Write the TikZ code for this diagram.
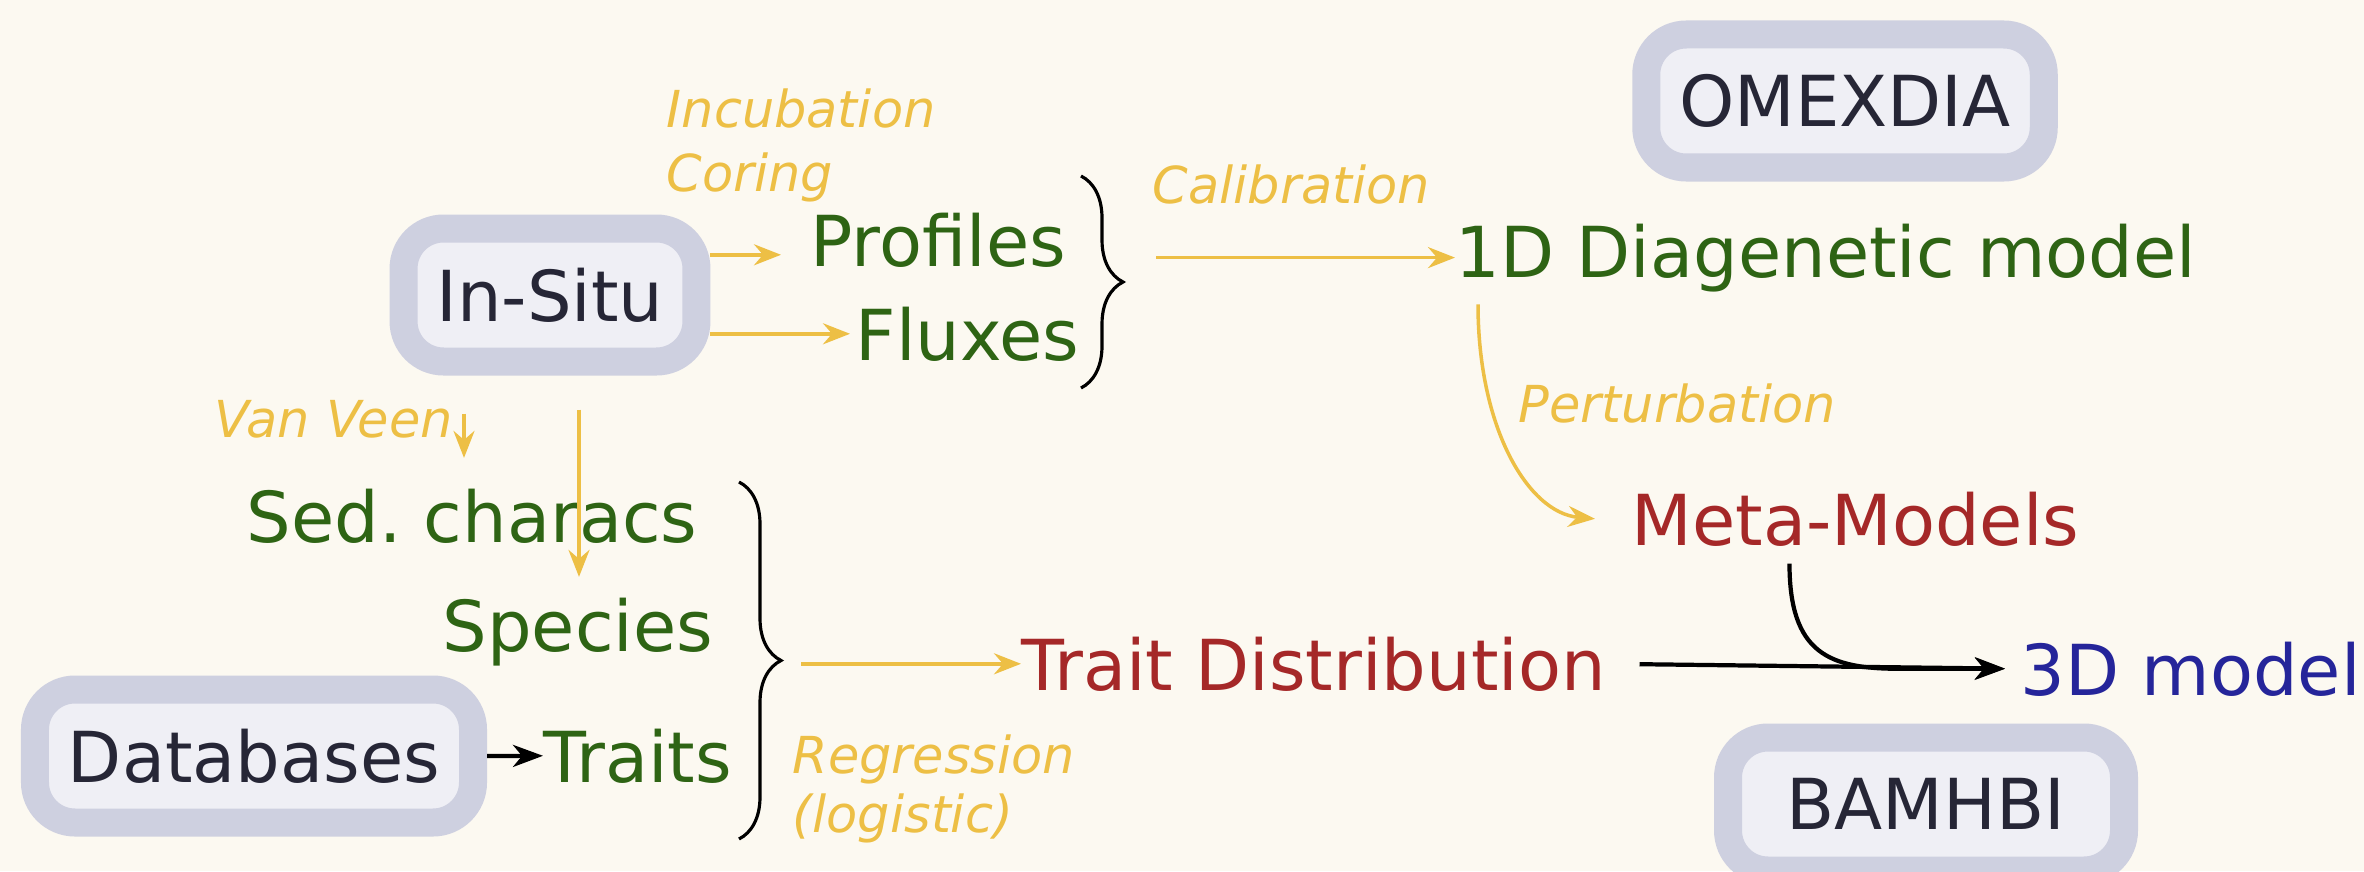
\documentclass[tikz,border=0pt]{standalone}
\usepackage{fontspec}
\setmainfont{DejaVu Sans}
\usetikzlibrary{arrows.meta,decorations.pathreplacing}

\definecolor{paper}{HTML}{FCF9F1}
\definecolor{gold}{HTML}{EDBF45}
\definecolor{leaf}{HTML}{2E6414}
\definecolor{brick}{HTML}{A52828}
\definecolor{ink}{HTML}{25259A}
\definecolor{toolrim}{HTML}{CED0E0}
\definecolor{toolfill}{HTML}{EFEFF5}
\definecolor{tooltext}{HTML}{262636}

\begin{document}
\begin{tikzpicture}[
    big/.style={inner sep=0pt,font=\fontsize{20}{24}\selectfont},
    data/.style={big,text=leaf,anchor=base west},
    result/.style={big,text=brick,anchor=base west},
    tool/.style={big,text=tooltext,draw=toolrim,line width=2.8mm,fill=toolfill,
                 rounded corners=4mm,inner xsep=3.3mm,minimum height=13.3mm},
    method/.style={inner sep=0pt,anchor=base west,text=gold,
                   font=\fontsize{14.5}{17}\selectfont\itshape},
    flow/.style={-{Stealth[length=2.7mm,width=2.1mm,inset=0.9mm]},gold,line width=1pt},
    link/.style={-{Stealth[length=3mm,width=2.2mm,inset=0.9mm]},black,line width=1.2pt},
    curly/.style={decorate,decoration={brace,amplitude=4.2mm},black,line width=0.9pt}
]
%    \draw[orange,thin] (0,0) grid (23.64,8.71);
    \fill[paper] (0,0) rectangle (23.64,8.71);
    \useasboundingbox (0,0) rectangle (23.64,8.71);

    % field work
    \node[tool] (insitu) at (5.50,5.76) {In-Situ};
    \node[method] (incub)  at (6.66,7.43) {Incubation};
    \node[method] (coring) at (6.66,6.79) {Coring};
    \node[data] (profiles) at (8.10,6.05) {Profiles};
    \node[data] (fluxes)   at (8.55,5.11) {Fluxes};
    \coordinate (pin) at ([xshift=-2.9mm,yshift=-1.5mm]profiles.west);
    \draw[flow] (insitu.east |- pin) -- (pin);
    \draw[flow,shorten >=0.5mm] (insitu.east |- fluxes.west) -- (fluxes.west);

    % first brace
    \coordinate (b1top) at (10.81,6.95);
    \coordinate (b1bot) at (10.81,4.83);
    \coordinate (b1tip) at (11.23,5.89);
    \draw[curly] (b1top) -- (b1bot);

    % diagenetic model
    \node[tool] (omexdia) at (18.45,7.70) {OMEXDIA};
    \node[data] (diag) at (14.55,5.94) {1D Diagenetic model};
    \node[method] (calib) at (11.52,6.68) {Calibration};
    \draw[flow] ([xshift=3.3mm]b1tip |- diag.west) -- (diag.west);

    \node[method] (perturb) at (15.18,4.49) {Perturbation};
    \node[result] (meta) at (16.31,3.26) {Meta-Models};
    \draw[flow] ([xshift=2.3mm,yshift=-1.2mm]diag.south west)
        to[out=-90,in=175,out looseness=1.3,in looseness=0.7]
        ([xshift=-3.6mm]meta.west);

    % sediment and fauna
    \node[method] (vanveen) at (2.14,4.34) {Van Veen};
    \node[data] (sed)     at (2.46,3.29) {Sed.\ characs};
    \node[data] (species) at (4.42,2.20) {Species};
    \node[data] (traits)  at (5.43,0.89) {Traits};
    \node[tool] (db) at (2.54,1.15) {Databases};
    \draw[flow,shorten >=3mm] ([xshift=-8.6mm,yshift=-3.8mm]insitu.south)
        -- ([xshift=-8.6mm]insitu.south |- sed.north);
    \draw[flow,shorten >=2mm] ([xshift=2.9mm,yshift=-3.4mm]insitu.south)
        -- ([xshift=2.9mm]insitu.south |- species.north);
    \draw[link] (db.east) -- (traits.west);

    % second brace
    \coordinate (b2top) at (7.39,3.89);
    \coordinate (b2bot) at (7.39,0.32);
    \coordinate (b2tip) at (7.81,2.10);
    \draw[curly] (b2top) -- (b2bot);
    \node[method] (regr)  at (7.92,0.98) {Regression};
    \node[method] (logis) at (7.92,0.39) {(logistic)};

    \node[result] (td) at (10.21,1.81) {Trait Distribution};
    \draw[flow] ([xshift=2mm]b2tip |- td.west) -- (td.west);

    % 3D
    \node[big,text=ink,anchor=base west] (model3d) at (20.20,1.76) {3D model};
    \node[tool,minimum width=3.96cm] (bamhbi) at (19.26,0.67) {BAMHBI};
    \draw[link,shorten <=3.3mm,shorten >=1.5mm] (td.east) -- (model3d.west);
    \draw[link,shorten >=1.5mm] ([xshift=-6.6mm,yshift=-1.7mm]meta.south)
        .. controls +(0,-0.9) and +(-0.7,0) .. ([xshift=4.4mm]meta.south |- model3d.west)
        -- (model3d.west);

\end{tikzpicture}
\end{document}
